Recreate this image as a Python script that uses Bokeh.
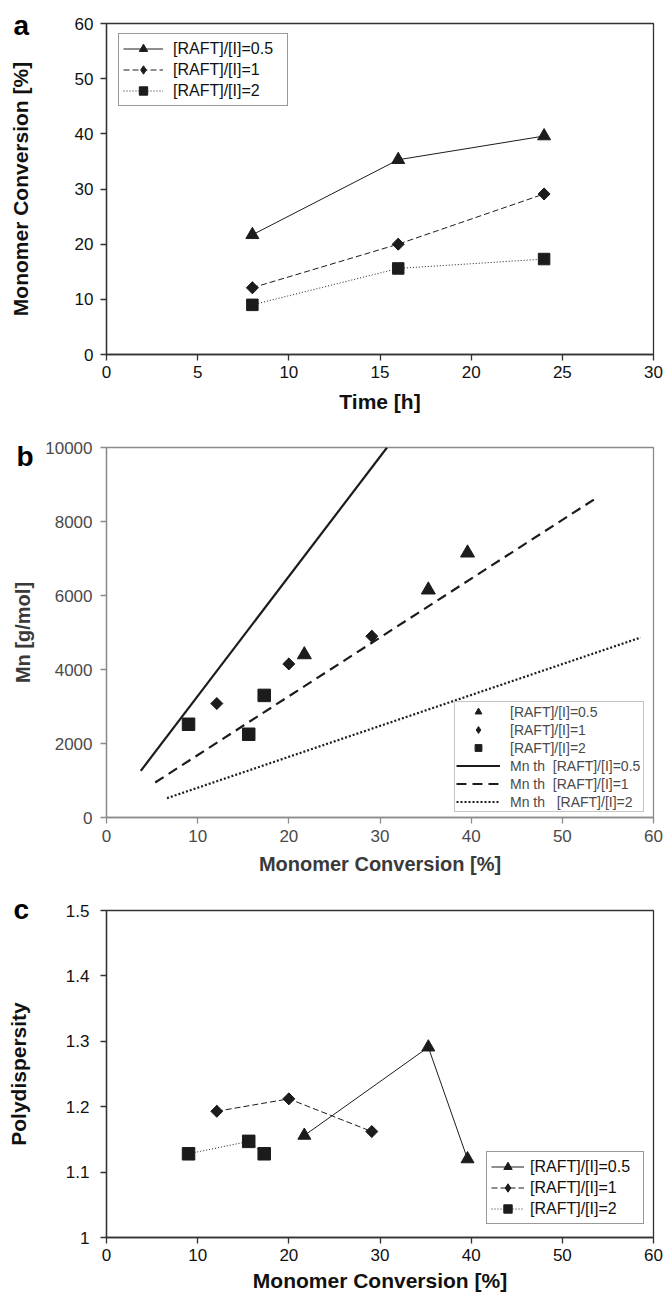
import math
from bokeh.plotting import figure
from bokeh.layouts import column
from bokeh.models import (Range1d, FixedTicker, Legend, LegendItem, Label, Title,
                          CustomJSTickFormatter)
from bokeh.embed import file_html
from bokeh.resources import INLINE

# ---------------- data ----------------
series_labels = ["[RAFT]/[I]=0.5", "[RAFT]/[I]=1", "[RAFT]/[I]=2"]
theory_labels = ["Mn th  [RAFT]/[I]=0.5", "Mn th  [RAFT]/[I]=1", "Mn th   [RAFT]/[I]=2"]
panel_letters = ["a", "b", "c"]

# panel a: conversion vs time
time_h = [8, 16, 24]
conv_r05 = [21.7, 35.3, 39.6]
conv_r1 = [12.1, 20.0, 29.1]
conv_r2 = [9.0, 15.6, 17.3]

# panel b: Mn vs conversion
mn_r05 = [4400, 6150, 7150]
mn_r1 = [3080, 4150, 4900]
mn_r2 = [2520, 2250, 3300]
th_conv_r05 = [3.76, 30.77]
th_mn_r05 = [1261, 10000]
th_conv_r1 = [5.34, 53.7]
th_mn_r1 = [946, 8631]
th_conv_r2 = [6.64, 58.6]
th_mn_r2 = [523, 4865]

# panel c: polydispersity vs conversion
pdi_r05 = [1.156, 1.291, 1.120]
pdi_r1 = [1.193, 1.212, 1.162]
pdi_r2 = [1.128, 1.147, 1.128]

a_xticks = [0, 5, 10, 15, 20, 25, 30]
a_yticks = [0, 10, 20, 30, 40, 50, 60]
b_xticks = [0, 10, 20, 30, 40, 50, 60]
b_yticks = [0, 2000, 4000, 6000, 8000, 10000]
c_xticks = [0, 10, 20, 30, 40, 50, 60]
c_yticks = [1.0, 1.1, 1.2, 1.3, 1.4, 1.5]

# ---------------- style ----------------
FONT = "Liberation Sans"
INK = "#1c1c1c"
GREY_AX = "#8c8c8c"
GREY_TXT = "#4a4a4a"


def make_fig(height, xr, yr, left, right, top, bottom, outline):
    p = figure(width=668, height=height,
               x_range=Range1d(*xr), y_range=Range1d(*yr),
               output_backend="svg", toolbar_location=None,
               min_border_left=left, min_border_right=right,
               min_border_top=top, min_border_bottom=bottom)
    p.grid.visible = False
    p.outline_line_color = outline
    p.outline_line_width = 1.3
    p.outline_line_alpha = 1
    return p


def style_axes(p, color, txt, tick_size, title_size, title_color,
               xstand, xtitle_stand, ystand, ytitle_stand):
    for ax in (p.xaxis[0], p.yaxis[0]):
        ax.axis_line_color = color
        ax.axis_line_width = 1.3
        ax.major_tick_line_color = color
        ax.major_tick_line_width = 1.3
        ax.major_tick_out = 6
        ax.major_tick_in = 0
        ax.minor_tick_line_color = None
        ax.major_label_text_font = FONT
        ax.major_label_text_font_size = tick_size
        ax.major_label_text_color = txt
        ax.axis_label_text_font = FONT
        ax.axis_label_text_font_size = title_size
        ax.axis_label_text_font_style = "bold"
        ax.axis_label_text_color = title_color
    p.xaxis[0].major_label_standoff = xstand
    p.xaxis[0].axis_label_standoff = xtitle_stand
    p.yaxis[0].major_label_standoff = ystand
    p.yaxis[0].axis_label_standoff = ytitle_stand


def style_legend(lg, font_size, txt, border, glyph_w, standoff, label_w,
                 pad, h, spacing):
    lg.label_text_font = FONT
    lg.label_text_font_size = font_size
    lg.label_text_color = txt
    lg.border_line_color = border
    lg.border_line_width = 1.3
    lg.background_fill_color = "white"
    lg.background_fill_alpha = 1
    lg.glyph_width = glyph_w
    lg.glyph_height = h
    lg.label_height = h
    lg.label_width = label_w
    lg.label_standoff = standoff
    lg.padding = pad
    lg.spacing = spacing
    lg.margin = 0


def letter(p, dx, drop, t):
    # panel letter as a left-aligned title; a negative standoff lets it sit lower
    # without taking room away from the frame
    try:
        tt = Title(text=t, align="left", offset=dx, standoff=-2 * (drop + 6),
                   vertical_align="bottom", text_font=FONT, text_font_size="28px",
                   text_font_style="bold", text_color="#000000")
        p.add_layout(tt, "above")
    except Exception:
        lab = Label(x=dx, y=-drop, x_units="screen", y_units="screen", text=t,
                    text_font=FONT, text_font_size="28px", text_font_style="bold",
                    text_color="#000000", text_align="left", text_baseline="alphabetic")
        p.add_layout(lab, "above")


def diamond_series(p, xs, ys):
    # proxy diamond (used by the legend), covered by a true 45-degree square
    proxy = p.scatter(xs, ys, marker="diamond", size=11, fill_color=INK, line_color=INK)
    p.scatter(xs, ys, marker="square", angle=math.pi / 4, size=8.5,
              fill_color=INK, line_color=INK)
    return proxy


# ---------------- panel a ----------------
pa = make_fig(420, (0, 30), (0, 60), 106, 11, 23, 66, "#333333")
pa.xaxis.axis_label = "Time [h]"
pa.yaxis.axis_label = "Monomer Conversion [%]"
pa.xaxis.ticker = FixedTicker(ticks=a_xticks)
pa.yaxis.ticker = FixedTicker(ticks=a_yticks)
style_axes(pa, "#333333", "#111111", "17px", "21px", "#111111", 5, 9, 7, 40)

la1 = pa.line(time_h, conv_r05, line_color=INK, line_width=1)
sa1 = pa.scatter(time_h, conv_r05, marker="triangle", size=13, fill_color=INK, line_color=INK)
la2 = pa.line(time_h, conv_r1, line_color=INK, line_width=1, line_dash="6 3")
sa2 = diamond_series(pa, time_h, conv_r1)
la3 = pa.line(time_h, conv_r2, line_color=INK, line_width=1, line_dash="1 2")
sa3 = pa.scatter(time_h, conv_r2, marker="square", size=11.5, fill_color=INK, line_color=INK)

lga = Legend(items=[LegendItem(label=series_labels[0], renderers=[la1, sa1]),
                    LegendItem(label=series_labels[1], renderers=[la2, sa2]),
                    LegendItem(label=series_labels[2], renderers=[la3, sa3])],
             location=(12, 248))
style_legend(lga, "16px", "#111111", "#333333", 40, 10, 110, 4, 21, 0)
pa.add_layout(lga)
letter(pa, -93, 11, panel_letters[0])

# ---------------- panel b ----------------
pb = make_fig(460, (0, 60), (0, 10000), 103, 15, 27, 63, GREY_AX)
pb.xaxis.axis_label = "Monomer Conversion [%]"
pb.yaxis.axis_label = "Mn [g/mol]"
pb.xaxis.ticker = FixedTicker(ticks=b_xticks)
pb.yaxis.ticker = FixedTicker(ticks=b_yticks)
style_axes(pb, GREY_AX, GREY_TXT, "17px", "20px", "#3a3a3a", 6, 8, 8, 8)

lb1 = pb.line(th_conv_r05, th_mn_r05, line_color=INK, line_width=2.2)
lb2 = pb.line(th_conv_r1, th_mn_r1, line_color=INK, line_width=2.2, line_dash="10 6")
lb3 = pb.line(th_conv_r2, th_mn_r2, line_color=INK, line_width=2.2, line_dash="2 2")
sb1 = pb.scatter(conv_r05, mn_r05, marker="triangle", size=14, fill_color=INK, line_color=INK)
sb2 = diamond_series(pb, conv_r1, mn_r1)
sb3 = pb.scatter(conv_r2, mn_r2, marker="square", size=12.5, fill_color=INK, line_color=INK)

lgb = Legend(items=[LegendItem(label=series_labels[0], renderers=[sb1]),
                    LegendItem(label=series_labels[1], renderers=[sb2]),
                    LegendItem(label=series_labels[2], renderers=[sb3]),
                    LegendItem(label=theory_labels[0], renderers=[lb1]),
                    LegendItem(label=theory_labels[1], renderers=[lb2]),
                    LegendItem(label=theory_labels[2], renderers=[lb3])],
             location=(348, 5))
style_legend(lgb, "14px", GREY_TXT, GREY_AX, 44, 10, 132, 1, 17, 1)
pb.add_layout(lgb)
letter(pb, -90, 18, panel_letters[1])

# ---------------- panel c ----------------
pc = make_fig(416, (0, 60), (1.0, 1.5), 106, 11, 30, 59, "#333333")
pc.xaxis.axis_label = "Monomer Conversion [%]"
pc.yaxis.axis_label = "Polydispersity"
pc.xaxis.ticker = FixedTicker(ticks=c_xticks)
pc.yaxis.ticker = FixedTicker(ticks=c_yticks)
pc.yaxis.formatter = CustomJSTickFormatter(code="return Number(tick.toFixed(2)).toString();")
style_axes(pc, "#333333", "#111111", "17px", "21px", "#111111", 5, 5, 11, 33)

lc1 = pc.line(conv_r05, pdi_r05, line_color=INK, line_width=1)
sc1 = pc.scatter(conv_r05, pdi_r05, marker="triangle", size=13, fill_color=INK, line_color=INK)
lc2 = pc.line(conv_r1, pdi_r1, line_color=INK, line_width=1, line_dash="6 3")
sc2 = diamond_series(pc, conv_r1, pdi_r1)
lc3 = pc.line(conv_r2, pdi_r2, line_color=INK, line_width=1, line_dash="1 2")
sc3 = pc.scatter(conv_r2, pdi_r2, marker="square", size=12.5, fill_color=INK, line_color=INK)

lgc = Legend(items=[LegendItem(label=series_labels[0], renderers=[lc1, sc1]),
                    LegendItem(label=series_labels[1], renderers=[lc2, sc2]),
                    LegendItem(label=series_labels[2], renderers=[lc3, sc3])],
             location=(380, 13))
style_legend(lgc, "16px", "#111111", "#333333", 33, 6, 109, 4, 21, 0)
pc.add_layout(lgc)
letter(pc, -93, 8, panel_letters[2])

layout = column(pa, pb, pc, spacing=0)
open("out.html", "w").write(file_html(layout, INLINE))
